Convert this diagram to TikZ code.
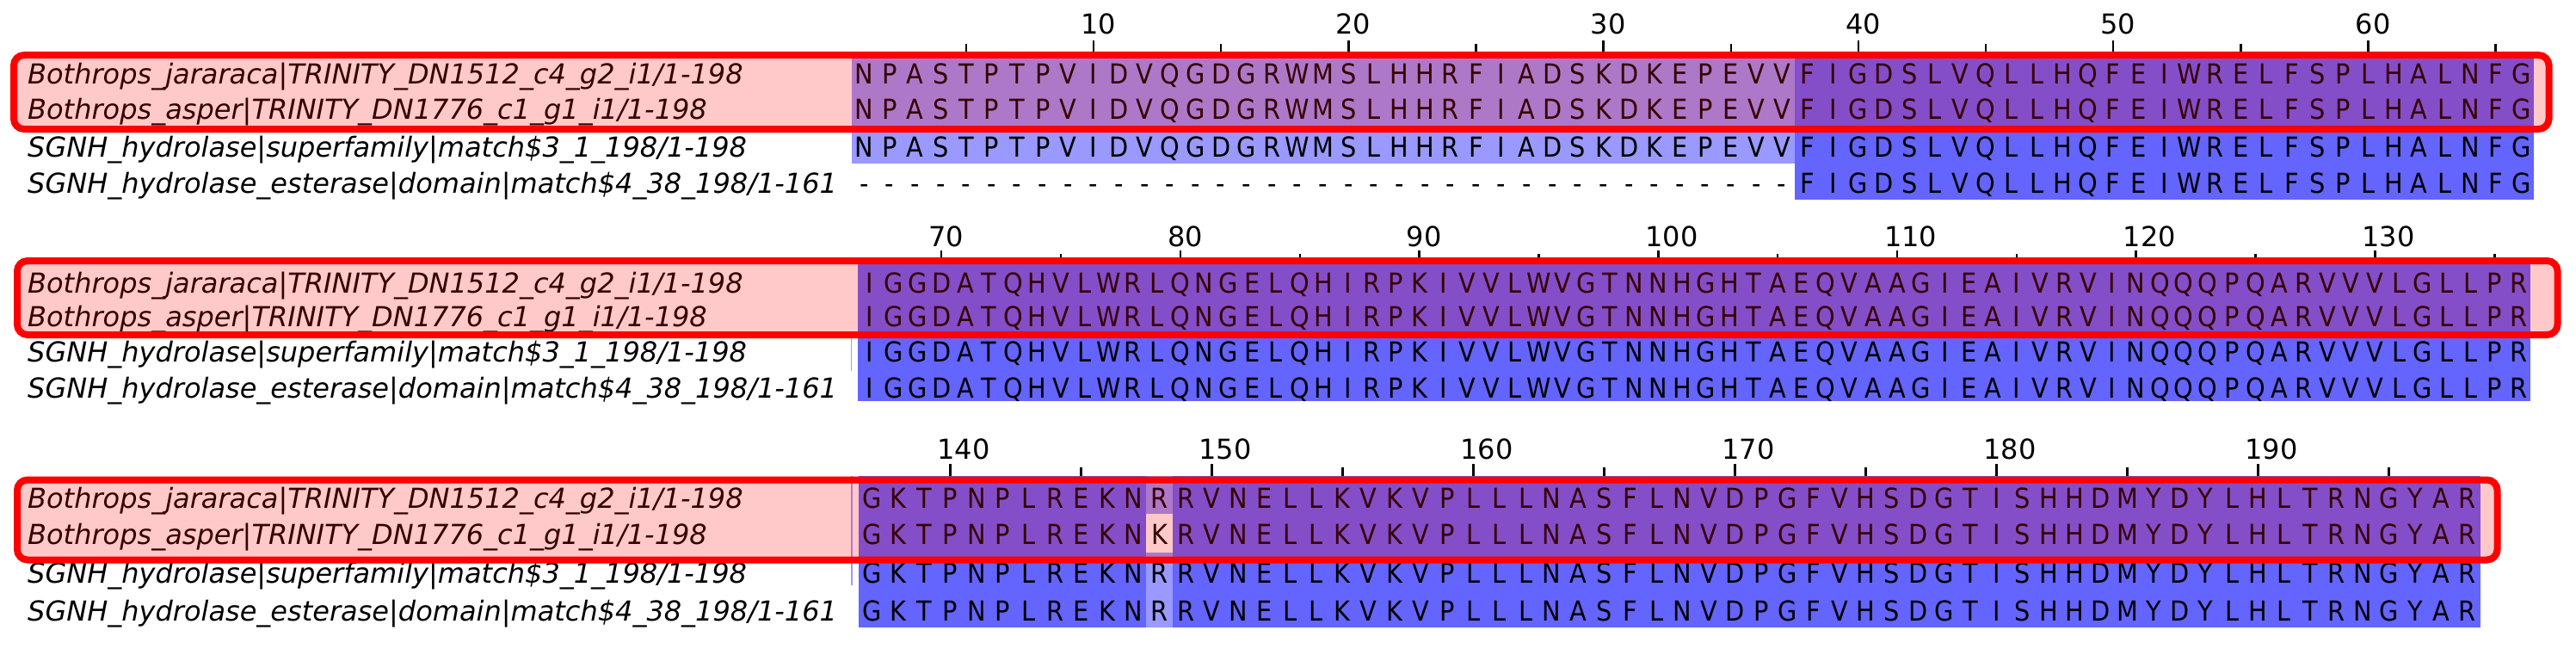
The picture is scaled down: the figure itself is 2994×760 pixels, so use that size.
\documentclass[tikz,border=0pt]{standalone}
\usepackage{fontspec}
\usepackage{graphicx}
\setmainfont{DejaVu Sans}
\definecolor{pidHi}{HTML}{6464FF}
\definecolor{pidMid}{HTML}{9999FF}
\newcount\cidx
\makeatletter
\def\seqrow#1#2#3#4{\def\sq@x{#1}\def\sq@w{#2}\def\sq@y{#3}\cidx=0 \sq@loop#4\relax}
\def\sq@loop#1{%
  \ifx#1\relax\else
    \node[seqch] at ({\sq@x+(\the\cidx+0.5)*\sq@w},\sq@y) {\scalebox{0.9}[1]{#1}};%
    \advance\cidx by 1
    \expandafter\sq@loop
  \fi}
\makeatother
\tikzset{
  seqch/.style={anchor=base, inner sep=0pt, font=\fontsize{32}{38}\selectfont},
  lab/.style={anchor=base west, inner sep=0pt, font=\fontsize{32}{38}\selectfont\itshape},
  num/.style={anchor=base west, inner sep=0pt, font=\fontsize{32}{38}\selectfont},
  tickmark/.style={line width=2.5pt, black},
  selbox/.style={draw=red, line width=8pt, fill=red, fill opacity=0.21, draw opacity=1, rounded corners=12pt},
}
\newcommand{\labA}{Bothrops\_jararaca|TRINITY\_DN1512\_c4\_g2\_i1/1-198}
\newcommand{\labB}{Bothrops\_asper|TRINITY\_DN1776\_c1\_g1\_i1/1-198}
\newcommand{\labC}{SGNH\_hydrolase|superfamily|match\$3\_1\_198/1-198}
\newcommand{\labD}{SGNH\_hydrolase\_esterase|domain|match\$4\_38\_198/1-161}
\begin{document}
\begin{tikzpicture}[x=1pt,y=-1pt]
\fill[white] (0,0) rectangle (2994,760);
\useasboundingbox (0,0) rectangle (2994,760);

% ---------------- Block 1 (1-66) ----------------
\fill[pidMid] (989.5,63) rectangle (2085.8,190);
\fill[pidHi] (2085.8,63) rectangle (2945,232);
\foreach \n in {10,20,...,60} {
  \draw[tickmark] ({989.5+(\n-0.5)*29.63},47) -- ++(0,16);
  \node[num] at ({989.5+(\n-0.5)*29.63-15},40) {\n};
}
\foreach \n in {5,15,...,65} \draw[tickmark] ({989.5+(\n-0.5)*29.63},51) -- ++(0,12);
\node[lab] (b1a) at (32,97.5) {\labA};
\node[lab] (b1b) at (32,138.5) {\labB};
\node[lab] (b1c) at (32,182.5) {\labC};
\node[lab] (b1d) at (32,224.5) {\labD};
\seqrow{989.5}{29.63}{97.5}{NPASTPTPVIDVQGDGRWMSLHHRFIADSKDKEPEVVFIGDSLVQLLHQFEIWRELFSPLHALNFG}
\seqrow{989.5}{29.63}{138.5}{NPASTPTPVIDVQGDGRWMSLHHRFIADSKDKEPEVVFIGDSLVQLLHQFEIWRELFSPLHALNFG}
\seqrow{989.5}{29.63}{182.5}{NPASTPTPVIDVQGDGRWMSLHHRFIADSKDKEPEVVFIGDSLVQLLHQFEIWRELFSPLHALNFG}
\seqrow{989.5}{29.63}{224.5}{-------------------------------------FIGDSLVQLLHQFEIWRELFSPLHALNFG}
\path[selbox] (16,64) rectangle (2962.5,150);

% ---------------- Block 2 (67-136) ----------------
\fill[pidHi] (997,305) rectangle (2941,466);
\draw[pidMid, line width=1pt] (989.5,388) -- (989.5,431);
\foreach \n in {70,80,...,130} {
  \draw[tickmark] ({997+(\n-66.5)*27.77},291) -- ++(0,14);
  \node[num] at ({997+(\n-66.5)*27.77-15},286) {\n};
}
\foreach \n in {75,85,...,135} \draw[tickmark] ({997+(\n-66.5)*27.77},295) -- ++(0,10);
\node[lab] (b2a) at (32,340) {\labA};
\node[lab] (b2b) at (32,379) {\labB};
\node[lab] (b2c) at (32,420) {\labC};
\node[lab] (b2d) at (32,462) {\labD};
\seqrow{997}{27.77}{340}{IGGDATQHVLWRLQNGELQHIRPKIVVLWVGTNNHGHTAEQVAAGIEAIVRVINQQQPQARVVVLGLLPR}
\seqrow{997}{27.77}{379}{IGGDATQHVLWRLQNGELQHIRPKIVVLWVGTNNHGHTAEQVAAGIEAIVRVINQQQPQARVVVLGLLPR}
\seqrow{997}{27.77}{420}{IGGDATQHVLWRLQNGELQHIRPKIVVLWVGTNNHGHTAEQVAAGIEAIVRVINQQQPQARVVVLGLLPR}
\seqrow{997}{27.77}{462}{IGGDATQHVLWRLQNGELQHIRPKIVVLWVGTNNHGHTAEQVAAGIEAIVRVINQQQPQARVVVLGLLPR}
\path[selbox] (20,303) rectangle (2972.5,389);

% ---------------- Block 3 (137-198) ----------------
\fill[pidHi] (998,553) rectangle (2882.8,729);
\fill[pidMid] (1332.4,553) rectangle (1362.8,597);
\fill[white] (1332.4,597) rectangle (1362.8,642);
\fill[pidMid] (1332.4,642) rectangle (1362.8,729);
\draw[pidMid, line width=1.5pt] (990,553) -- (990,680);
\foreach \n in {140,150,...,190} {
  \draw[tickmark] ({998+(\n-136.5)*30.4},539) -- ++(0,14);
  \node[num] at ({998+(\n-136.5)*30.4-15},533) {\n};
}
\foreach \n in {145,155,...,195} \draw[tickmark] ({998+(\n-136.5)*30.4},543) -- ++(0,10);
\node[lab] (b3a) at (32,590) {\labA};
\node[lab] (b3b) at (32,632) {\labB};
\node[lab] (b3c) at (32,677) {\labC};
\node[lab] (b3d) at (32,721) {\labD};
\seqrow{998}{30.4}{590}{GKTPNPLREKNRRVNELLKVKVPLLLNASFLNVDPGFVHSDGTISHHDMYDYLHLTRNGYAR}
\seqrow{998}{30.4}{632}{GKTPNPLREKNKRVNELLKVKVPLLLNASFLNVDPGFVHSDGTISHHDMYDYLHLTRNGYAR}
\seqrow{998}{30.4}{677}{GKTPNPLREKNRRVNELLKVKVPLLLNASFLNVDPGFVHSDGTISHHDMYDYLHLTRNGYAR}
\seqrow{998}{30.4}{721}{GKTPNPLREKNRRVNELLKVKVPLLLNASFLNVDPGFVHSDGTISHHDMYDYLHLTRNGYAR}
\path[selbox] (20,557.5) rectangle (2902.5,650.5);
\end{tikzpicture}
\end{document}
